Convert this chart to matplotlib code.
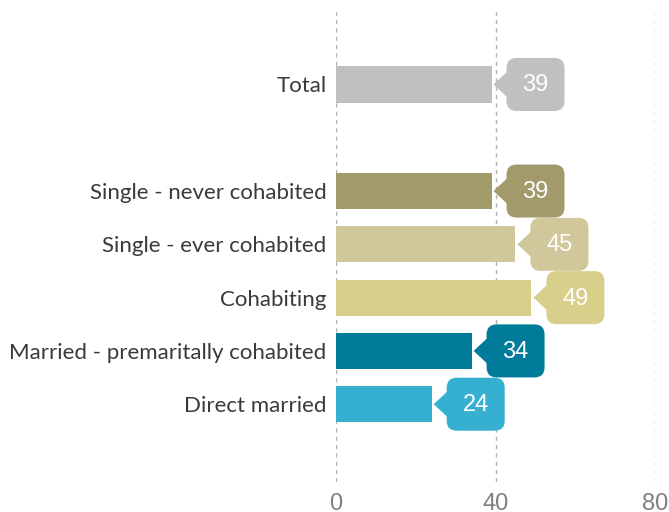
import matplotlib
matplotlib.use("Agg")
import matplotlib.pyplot as plt
from matplotlib.patches import FancyBboxPatch, Polygon
from matplotlib.transforms import ScaledTranslation

categories = ["Total", "Single - never cohabited", "Single - ever cohabited",
              "Cohabiting", "Married - premaritally cohabited", "Direct married"]
values = [39, 39, 45, 49, 34, 24]
positions = [0, 2, 3, 4, 5, 6]
colors = ["#c0c0c0", "#a29a6a", "#d0c89a", "#d8cf8a", "#007b99", "#35b0d0"]
x_ticks = [0, 40, 80]

fig = plt.figure(figsize=(6.69, 5.12), dpi=100)
ax = fig.add_axes([336 / 669, 1 - 482 / 512, 319 / 669, 470 / 512])

ax.barh(positions, values, height=0.68, color=colors, zorder=2)

ax.set_xlim(0, 80)
ax.set_ylim(7.46, -1.36)
ax.set_xticks(x_ticks)
ax.set_xticklabels([str(t) for t in x_ticks], fontsize=17, color="#808080",
                   family="Liberation Sans")
ax.set_yticks(positions)
ax.set_yticklabels(categories, fontsize=16, color="#3a3a3a", family="Lato")
ax.tick_params(axis="both", length=0)
ax.tick_params(axis="x", pad=8)
ax.tick_params(axis="y", pad=7)
for s in ax.spines.values():
    s.set_visible(False)
for t in x_ticks:
    ax.axvline(t, color="#b0b0b0", lw=1, ls=(0, (3, 3)), zorder=1)

# callout labels at bar ends, sized in inches (1 px = 0.01 in)
for pos, val, col in zip(positions, values, colors):
    trans = fig.dpi_scale_trans + ScaledTranslation(val, pos, ax.transData)
    box = FancyBboxPatch((0.15, -0.265), 0.58, 0.53,
                         boxstyle="round,pad=0,rounding_size=0.1",
                         transform=trans, facecolor=col, edgecolor="none",
                         zorder=3, clip_on=False)
    tri = Polygon([(0.02, 0), (0.16, 0.13), (0.16, -0.13)], closed=True,
                  transform=trans, facecolor=col, edgecolor="none",
                  zorder=3, clip_on=False)
    ax.add_patch(box)
    ax.add_patch(tri)
    ax.text(0.44, -0.01, str(val), transform=trans, ha="center", va="center",
            color="white", fontsize=17, family="Liberation Sans", zorder=4)

fig.savefig("out.png", dpi=100)
